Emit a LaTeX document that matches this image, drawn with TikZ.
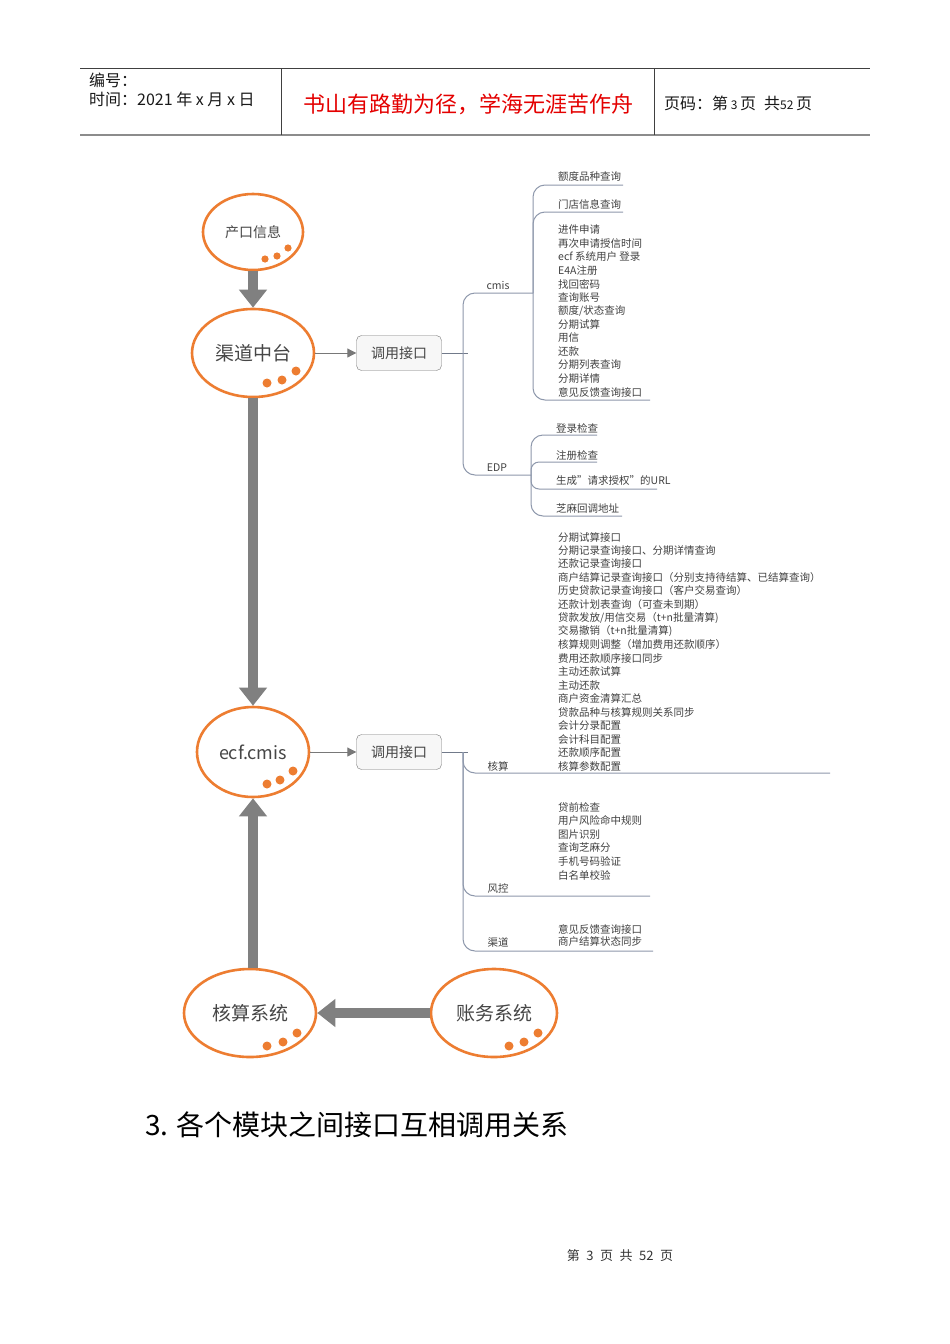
\documentclass[tikz,border=0pt]{standalone}
\usepackage{fontspec}
\setmainfont{Noto Sans CJK SC}
\usetikzlibrary{shapes.geometric,arrows.meta}
\definecolor{orng}{RGB}{237,125,49}
\definecolor{agray}{RGB}{128,128,128}
\definecolor{txtgray}{RGB}{70,70,70}
\definecolor{itemcol}{RGB}{65,65,65}
\definecolor{mmcol}{RGB}{142,152,172}
\definecolor{boxfill}{RGB}{247,247,247}
\definecolor{bgray}{RGB}{120,120,120}
\definecolor{hred}{RGB}{228,0,0}
\begin{document}
\begin{tikzpicture}[x=1pt,y=-1pt,
  circ/.style={ellipse, draw=orng, line width=2.6pt, fill=white, inner sep=0pt, text=txtgray},
  bigarrow/.style={draw=agray, line width=10pt, -{Triangle[length=18pt,width=27pt]}},
  ibox/.style={draw=bgray, fill=boxfill, rounded corners=5pt, minimum width=85pt, minimum height=35pt, inner sep=0pt, font=\fontsize{14}{14}\selectfont, text=txtgray},
  thinarr/.style={draw=bgray, line width=1pt, -{Triangle[length=9pt,width=9pt]}},
  mm/.style={draw=mmcol, line width=1pt, rounded corners=12pt},
  item/.style={anchor=west, inner sep=0pt, font=\fontsize{10.5}{12}\selectfont, text=itemcol},
  hdr/.style={anchor=west, inner sep=0pt, font=\fontsize{16}{16}\selectfont, text=black!90}]
\useasboundingbox (0,0) rectangle (950,1344);
\fill[white] (0,0) rectangle (950,1344);

% header
\draw[black!75, line width=1pt] (80,68) -- (870,68);
\draw[black!45, line width=2pt] (80,135) -- (870,135);
\draw[black!75, line width=1pt] (281,68) -- (281,135);
\draw[black!75, line width=1pt] (654,68) -- (654,135);
\node[hdr] (hnum) at (89,80) {编号：};
\node[hdr] (htime) at (89,99) {时间：2021 年 x 月 x 日};
\node[inner sep=0pt, font=\fontsize{22}{22}\selectfont, text=hred] (htitle) at (468,104) {书山有路勤为径，学海无涯苦作舟};
\node[hdr] (hpage) at (664,103) {页码：第\,{\fontsize{12}{12}\selectfont 3}\,页\enspace 共{\fontsize{12}{12}\selectfont 52}\,页};

% ellipses
\node[circ, minimum width=100pt, minimum height=76pt, font=\fontsize{14}{14}\selectfont] (n1) at (253,232) {产口信息};
\node[circ, minimum width=122pt, minimum height=88pt, font=\fontsize{19}{19}\selectfont] (n2) at (253,353) {渠道中台};
\node[circ, minimum width=112pt, minimum height=90pt, font=\fontsize{18}{18}\selectfont] (n3) at (253,752) {ecf.cmis};
\node[circ, minimum width=132pt, minimum height=88pt, font=\fontsize{19}{19}\selectfont] (n4) at (250,1013) {核算系统};
\node[circ, minimum width=126pt, minimum height=88pt, font=\fontsize{19}{19}\selectfont] (n5) at (494,1013) {账务系统};

\foreach \n/\r/\ax/\ay/\bx/\by/\cx/\cy in {n1/3.6/12/27/24/24/35/16, n2/4.5/14/30/29/27/43/18, n3/4.5/14/32/27/28/40/19, n4/4.5/17/33/33/29/47/20, n5/4.5/15/33/30/29/44/20}{
  \fill[orng] ([shift={(\ax,\ay)}]\n.center) circle (\r pt);
  \fill[orng] ([shift={(\bx,\by)}]\n.center) circle (\r pt);
  \fill[orng] ([shift={(\cx,\cy)}]\n.center) circle (\r pt);
}

% thick arrows
\draw[bigarrow] (n1.south) -- (n2.north);
\draw[bigarrow] (n2.south) -- (n3.north);
\draw[bigarrow] (n4.north -| n3.south) -- (n3.south);
\draw[bigarrow] (n5.west) -- (n4.east);

% interface boxes
\node[ibox] (b1) at (399,353) {调用接口};
\node[ibox] (b2) at (399,752) {调用接口};
\draw[thinarr] (n2.east) -- (b1.west);
\draw[thinarr] (n3.east) -- (b2.west);

% top mind map
\coordinate (t1) at (468,353);
\coordinate (jc) at (533,293);
\coordinate (je) at (531,475);
\draw[mmcol!80!black, line width=1pt] (b1.east) -- (t1);
\draw[mm] (jc) -- (463,293) -- (463,475) -- (je);
\node[item, anchor=center] (lcmis) at (498,285) {cmis};
\node[item, anchor=center] (ledp) at (497,468) {EDP};
\draw[mm] (jc) -- (533,185) -- (623,185);
\draw[mm] (jc) -- (533,212) -- (623,212);
\draw[mm] (jc) -- (533,400) -- (650,400);
\node[item] (c01) at (558,177) {额度品种查询};
\node[item] (c02) at (558,204) {门店信息查询};
\foreach \t [count=\i] in {进件申请, 再次申请授信时间, ecf 系统用户 登录, E4A注册, 找回密码, 查询账号, 额度/状态查询, 分期试算, 用信, 还款, 分期列表查询, 分期详情, 意见反馈查询接口}
  \node[item] (c\i) at (558,{230+13.5*(\i-1)}) {\t};
\draw[mm] (je) -- (531,435) -- (597,435);
\draw[mm, rounded corners=8pt] (je) -- (531,462) -- (597,462);
\draw[mm, rounded corners=8pt] (je) -- (531,489) -- (657,489);
\draw[mm] (je) -- (531,516) -- (622,516);
\node[item] (e1) at (556,428) {登录检查};
\node[item] (e2) at (556,455) {注册检查};
\node[item] (e3) at (556,481) {生成\symbol{34}请求授权\symbol{34}的URL};
\node[item] (e4) at (556,508) {芝麻回调地址};

% bottom mind map
\coordinate (t2) at (468,752);
\coordinate (js) at (463,752);
\draw[mmcol!80!black, line width=1pt] (b2.east) -- (t2);
\draw[mm] (js) -- (463,773) -- (830,773);
\draw[mm] (js) -- (463,896) -- (650,896);
\draw[mm] (js) -- (463,951) -- (653,951);
\node[item, anchor=center] (lhs) at (498,766) {核算};
\node[item, anchor=center] (lfk) at (498,888) {风控};
\node[item, anchor=center] (lqd) at (498,942) {渠道};
\foreach \t [count=\i] in {分期试算接口, 分期记录查询接口、分期详情查询, 还款记录查询接口, 商户结算记录查询接口（分别支持待结算、已结算查询）, 历史贷款记录查询接口（客户交易查询）, 还款计划表查询（可查未到期）, 贷款发放/用信交易（t+n批量清算), 交易撤销（t+n批量清算), 核算规则调整（增加费用还款顺序）, 费用还款顺序接口同步, 主动还款试算, 主动还款, 商户资金清算汇总, 贷款品种与核算规则关系同步, 会计分录配置, 会计科目配置, 还款顺序配置, 核算参数配置}
  \node[item] (h\i) at (558,{537+13.47*(\i-1)}) {\t};
\foreach \t [count=\i] in {贷前检查, 用户风险命中规则, 图片识别, 查询芝麻分, 手机号码验证, 白名单校验}
  \node[item] (f\i) at (558,{807+13.6*(\i-1)}) {\t};
\node[item] (q1) at (558,929) {意见反馈查询接口};
\node[item] (q2) at (558,942) {商户结算状态同步};

% heading and footer
\node[anchor=west, inner sep=0pt, font=\fontsize{28}{28}\selectfont, text=black] (sec) at (145,1125) {3. 各个模块之间接口互相调用关系};
\node[inner sep=0pt, font=\fontsize{13}{13}\selectfont, text=black!80] (foot) at (620,1256) {第\enspace 3\enspace 页\enspace 共\enspace 52\enspace 页};
\end{tikzpicture}
\end{document}
